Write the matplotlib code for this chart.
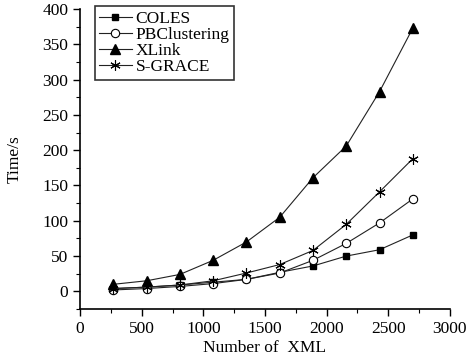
import matplotlib
matplotlib.use("Agg")
import matplotlib.pyplot as plt
from matplotlib.ticker import MultipleLocator

plt.rcParams['font.family'] = ['Liberation Serif', 'DejaVu Serif']

xml_counts = [270, 540, 810, 1080, 1350, 1620, 1890, 2160, 2430, 2700]
coles = [4, 6, 9, 13, 17, 27, 36, 50, 59, 80]
pbclustering = [2, 4, 7, 11, 17, 26, 44, 68, 97, 131]
xlink = [10, 15, 24, 44, 70, 105, 161, 206, 283, 373]
sgrace = [4, 6, 9, 15, 26, 38, 58, 95, 141, 188]

fig = plt.figure(figsize=(4.71, 3.61), dpi=100)
ax = fig.add_axes([0.170, 0.144, 0.785, 0.831])

lc = '#222222'
ax.plot(xml_counts, coles, color=lc, lw=0.8, marker='s', ms=4.8,
        mfc='black', mec='black', label='COLES')
ax.plot(xml_counts, pbclustering, color=lc, lw=0.8, marker='o', ms=6,
        mfc='white', mec='black', mew=0.8, label='PBClustering')
ax.plot(xml_counts, xlink, color=lc, lw=0.8, marker='^', ms=6.5,
        mfc='black', mec='black', label='XLink')
ax.plot(xml_counts, sgrace, color=lc, lw=0.8, marker=(6, 2, 0), ms=7.5,
        mfc='black', mec='black', mew=0.8, label='S-GRACE')

ax.set_xlim(0, 3000)
ax.set_ylim(-25, 400)
ax.xaxis.set_major_locator(MultipleLocator(500))
ax.xaxis.set_minor_locator(MultipleLocator(250))
ax.yaxis.set_major_locator(MultipleLocator(50))
ax.yaxis.set_minor_locator(MultipleLocator(25))

for s in ['top', 'right']:
    ax.spines[s].set_visible(False)
for s in ['left', 'bottom']:
    ax.spines[s].set_linewidth(1.2)

ax.tick_params(which='major', direction='out', length=5, width=1, labelsize=12.5)
ax.tick_params(which='minor', direction='out', length=3, width=0.8)

ax.set_xlabel('Number of  XML', fontsize=12.5, labelpad=2)
ax.set_ylabel('Time/s', fontsize=12.5, labelpad=14)

leg = ax.legend(loc='upper left', bbox_to_anchor=(0.03, 1.02), fontsize=12.5,
                frameon=True, fancybox=False, edgecolor='black',
                handlelength=1.9, handletextpad=0.2, borderpad=0.25,
                labelspacing=0.0, borderaxespad=0.2)
leg.get_frame().set_linewidth(1.2)

fig.savefig('out.png', dpi=100)
